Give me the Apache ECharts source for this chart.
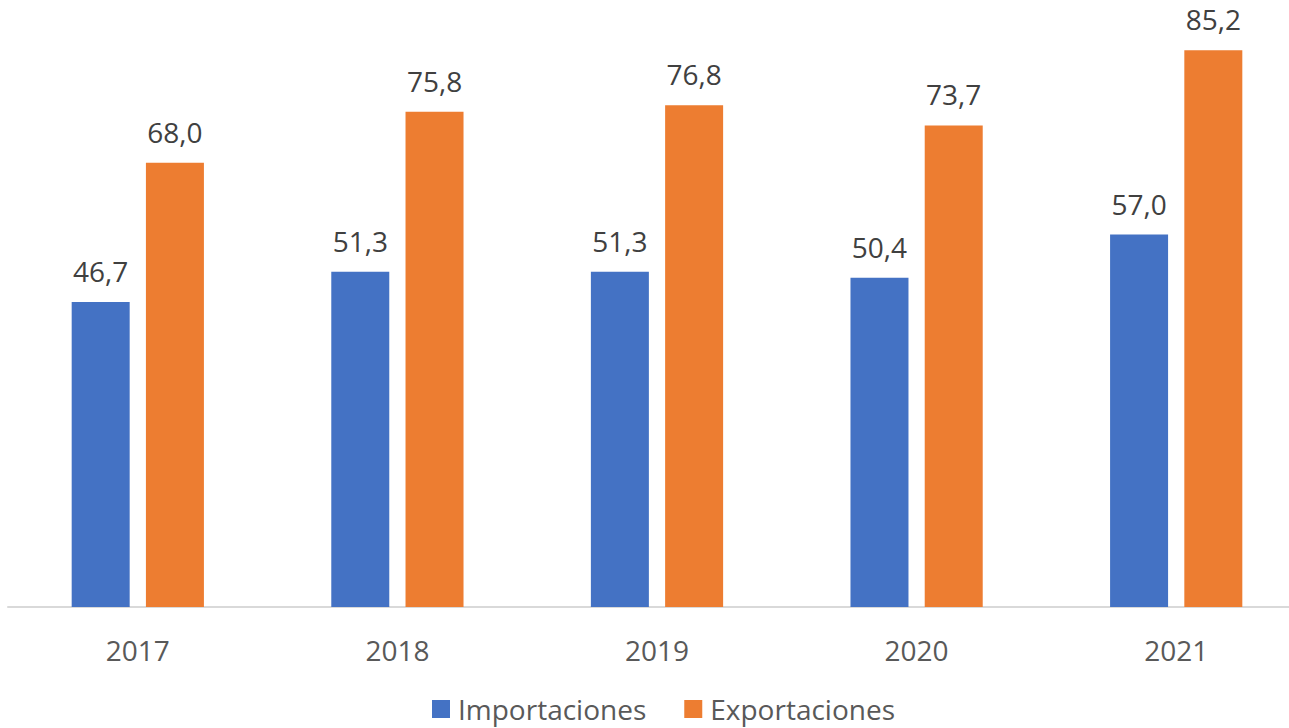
<!DOCTYPE html>
<html>
<head>
<meta charset="utf-8">
<script src="https://cdn.jsdelivr.net/npm/echarts@6/dist/echarts.min.js"></script>
<style>
  html, body { margin: 0; padding: 0; background: #fff; overflow: hidden; }
  /* the plot runs slightly past the right edge in the original */
  #chartContainer { width: 1306px; height: 728px; }
</style>
</head>
<body>
<div id="chartContainer"></div>
<script>
const years = ['2017', '2018', '2019', '2020', '2021'];
const importaciones = [46.7, 51.3, 51.3, 50.4, 57.0];
const exportaciones = [68.0, 75.8, 76.8, 73.7, 85.2];

const font = 'Open Sans';

var myChart = echarts.init(document.getElementById('chartContainer'), null, { renderer: 'svg' });

// data labels with decimal comma
function fmt(p) {
    return p.value.toFixed(1).replace('.', ',');
}

function makeSeries(name, data, color) {
    return {
        name: name,
        type: 'bar',
        data: data,
        barWidth: 58,
        barGap: '28%',
        itemStyle: { color: color },
        label: {
            show: true,
            position: 'top',
            distance: 17,
            formatter: fmt,
            color: '#404040',
            fontSize: 28,
            fontFamily: font
        }
    };
}

myChart.setOption({
    animation: false,
    grid: { left: 8, right: 0, top: 19, bottom: 121, containLabel: false },
    legend: {
        bottom: 0,
        left: 427,
        itemWidth: 18,
        itemHeight: 18,
        itemGap: 38,
        icon: 'rect',
        textStyle: { color: '#595959', fontSize: 28, fontFamily: font, padding: [0, 0, 0, 3] }
    },
    xAxis: {
        type: 'category',
        data: years,
        axisLine: { lineStyle: { color: '#d9d9d9', width: 2 } },
        axisTick: { show: false },
        axisLabel: { color: '#595959', fontSize: 28, fontFamily: font, margin: 29 }
    },
    yAxis: {
        type: 'value',
        min: 0,
        max: 90,
        show: false,
        splitLine: { show: false }
    },
    series: [
        makeSeries('Importaciones', importaciones, '#4472c4'),
        makeSeries('Exportaciones', exportaciones, '#ed7d31')
    ]
});
</script>
</body>
</html>
